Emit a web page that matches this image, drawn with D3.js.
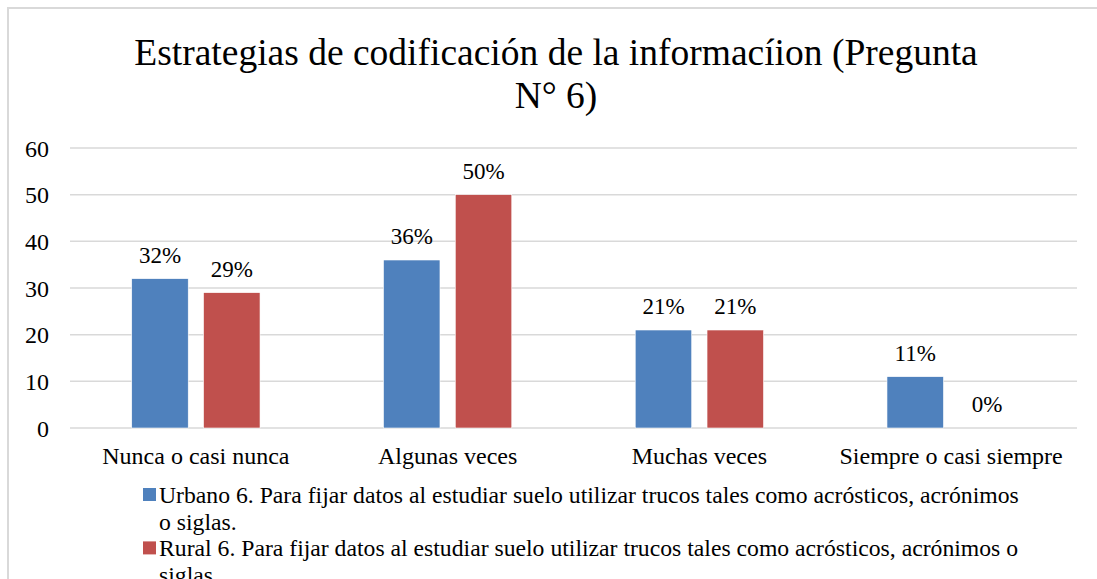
<!DOCTYPE html>
<html>
<head>
<meta charset="utf-8">
<script src="https://cdn.jsdelivr.net/npm/d3@7"></script>
<style>
  body { margin: 0; background: #fff; }
  svg text, svg tspan { font-family: "Liberation Serif", serif; }
</style>
</head>
<body>
<div id="chart"></div>
<script>
// chart data
var categories = ["Nunca o casi nunca", "Algunas veces", "Muchas veces", "Siempre o casi siempre"];
var urbano = [32, 36, 21, 11];
var rural = [29, 50, 21, 0];
var seriesNames = [
  "Urbano 6. Para fijar datos al estudiar suelo utilizar trucos tales como acrósticos, acrónimos o siglas.",
  "Rural 6. Para fijar datos al estudiar suelo utilizar trucos tales como acrósticos, acrónimos o siglas."
];
var seriesColors = ["#4F81BD", "#C0504D"];
var yTicks = [0, 10, 20, 30, 40, 50, 60];
var titleLines = ["Estrategias de codificación de la informacíion (Pregunta", "N° 6)"];

var FONT = "Liberation Serif";

var W = 1097, H = 579;
var margin = {top: 148, left: 70},
    width = 1077 - margin.left,
    height = 428 - margin.top;

var root = d3.select("#chart").append("svg")
  .attr("width", W)
  .attr("height", H)
  .attr("font-family", FONT);

// outer chart border (cropped by the window)
root.append("rect")
  .attr("x", 8).attr("y", 8)
  .attr("width", 1300).attr("height", 800)
  .attr("fill", "#fff")
  .attr("stroke", "#d9d9d9")
  .attr("stroke-width", 2);

// title
root.append("text")
  .attr("x", 556)
  .attr("y", 65)
  .attr("text-anchor", "middle")
  .attr("font-size", 37.5)
  .selectAll("tspan")
  .data(titleLines)
  .enter()
  .append("tspan")
    .attr("x", 556)
    .attr("dy", function (d, i) { return i == 0 ? 0 : 43; })
    .text(function (d) { return d; });

var svg = root.append("g")
  .attr("transform", "translate(" + margin.left + "," + margin.top + ")");

var x = d3.scaleBand()
  .domain(categories)
  .range([0, width]);

var y = d3.scaleLinear()
  .domain([0, 60])
  .range([height, 0]);

// gridlines
svg.append("g")
  .selectAll("line")
  .data(yTicks)
  .enter()
  .append("line")
    .attr("x1", 0)
    .attr("x2", width)
    .attr("y1", function (d) { return y(d); })
    .attr("y2", function (d) { return y(d); })
    .attr("stroke", "#d9d9d9")
    .attr("stroke-width", 1.5);

// y axis labels
var yAxis = svg.append("g")
  .call(d3.axisLeft(y).tickValues(yTicks).tickSize(0).tickPadding(21));
yAxis.select(".domain").remove();
yAxis.attr("font-size", 24).attr("font-family", FONT);
yAxis.selectAll("text")
  .attr("dy", "0.34em")
  .attr("fill", "#000");

// x axis labels
var xAxis = svg.append("g")
  .attr("transform", "translate(0," + height + ")")
  .call(d3.axisBottom(x).tickSize(0).tickPadding(19));
xAxis.select(".domain").remove();
xAxis.attr("font-size", 24).attr("font-family", FONT);
xAxis.selectAll("text")
  .attr("fill", "#000");

// bars
var barW = 56.5, gap = 15.3;
var series = [urbano, rural];

series.forEach(function (vals, s) {
  var off = s == 0 ? -(gap / 2 + barW) : gap / 2;
  var rows = categories.map(function (c, i) { return {cat: c, v: vals[i]}; });

  svg.append("g")
    .selectAll("rect")
    .data(rows)
    .enter()
    .append("rect")
      .attr("x", function (d) { return x(d.cat) + x.bandwidth() / 2 + off; })
      .attr("y", function (d) { return y(d.v); })
      .attr("width", barW)
      .attr("height", function (d) { return height - y(d.v); })
      .attr("fill", seriesColors[s])
      .attr("stroke", "#fff")
      .attr("stroke-width", 0.6);

  svg.append("g")
    .selectAll("text")
    .data(rows)
    .enter()
    .append("text")
      .attr("x", function (d) { return x(d.cat) + x.bandwidth() / 2 + off + barW / 2; })
      .attr("y", function (d) { return y(d.v) - 16; })
      .attr("text-anchor", "middle")
      .attr("font-size", 23)
      .text(function (d) { return d.v + "%"; });
});

// legend (wrapped text)
var legendX = 159, legendY = 503, lineH = 26.7, maxW = 868;
var lineNo = 0;
seriesNames.forEach(function (name, s) {
  root.append("rect")
    .attr("x", 143)
    .attr("y", legendY + lineNo * lineH - 15)
    .attr("width", 13)
    .attr("height", 13)
    .attr("fill", seriesColors[s]);

  var t = root.append("text")
    .attr("x", legendX)
    .attr("y", legendY + lineNo * lineH)
    .attr("font-size", 23.7);
  var words = name.split(" ");
  var line = [];
  var tspan = t.append("tspan").attr("x", legendX).attr("dy", 0);
  words.forEach(function (w) {
    line.push(w);
    tspan.text(line.join(" "));
    if (tspan.node().getComputedTextLength() > maxW && line.length > 1) {
      line.pop();
      tspan.text(line.join(" "));
      line = [w];
      tspan = t.append("tspan").attr("x", legendX).attr("dy", lineH).text(w);
      lineNo++;
    }
  });
  lineNo++;
});
</script>
</body>
</html>
